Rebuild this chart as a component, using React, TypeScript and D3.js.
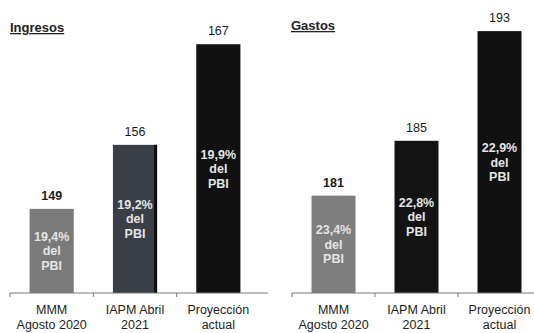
import React from "react";
import * as d3 from "d3";

const categories = ["MMM\nAgosto 2020", "IAPM Abril\n2021", "Proyección\nactual"];
const ingresos = [149, 156, 167];
const ingresosPbi = ["19,4%", "19,2%", "19,9%"];
const gastos = [181, 185, 193];
const gastosPbi = ["23,4%", "22,8%", "22,9%"];
const ingresosColors = ["#7a7a7a", "#3a3e46", "#111111"];
const gastosColors = ["#7e7e7e", "#141414", "#111111"];

const W = 534;
const H = 333;
const baseline = 293;
const FONT = "'Liberation Sans', Arial, sans-serif";

type PanelProps = {
  title: string;
  values: number[];
  pbi: string[];
  colors: string[];
  x0: number;
  x1: number;
  axisEnd: number;
  yDomain: [number, number];
  yTop: number;
  titleX: number;
  titleY: number;
};

function Panel({ title, values, pbi, colors, x0, x1, axisEnd, yDomain, yTop, titleX, titleY }: PanelProps) {
  const x = d3.scaleBand<string>().domain(categories).range([x0, x1]).paddingInner(0.47).paddingOuter(0.235);
  const y = d3.scaleLinear().domain(yDomain).range([baseline, yTop]);
  const step = x.step();
  const tickXs = categories.map((_, i) => x0 + i * step);
  return (
    <g>
      <text x={titleX} y={titleY} fontFamily={FONT} fontSize={13} fontWeight="bold" fill="#222" textDecoration="underline">
        {title}
      </text>
      {values.map((v, i) => {
        const c = categories[i];
        const bx = x(c)!;
        const bw = x.bandwidth();
        const top = y(v);
        const mid = (top + baseline) / 2;
        return (
          <g key={c}>
            <rect x={bx} y={top} width={bw} height={baseline - top} fill={colors[i]} />
            {colors[i] === "#3a3e46" && <rect x={bx + bw - 3} y={top} width={3} height={baseline - top} fill="#0c0c0c" />}
            <text x={bx + bw / 2} y={top - 9} textAnchor="middle" fontFamily={FONT} fontSize={12.5} fontWeight={i === 0 ? "bold" : "normal"} fill="#1a1a1a">
              {v}
            </text>
            {[pbi[i], "del", "PBI"].map((t, j) => (
              <text key={j} x={bx + bw / 2} y={mid + (j - 1) * 14.5 + 4.5} textAnchor="middle" fontFamily={FONT} fontSize={12.5} fontWeight="bold" fill="#e4e4e4">
                {t}
              </text>
            ))}
            {c.split("\n").map((t, j) => (
              <text key={"c" + j} x={bx + bw / 2} y={314 + j * 14.5} textAnchor="middle" fontFamily={FONT} fontSize={12.5} fill="#222">
                {t}
              </text>
            ))}
          </g>
        );
      })}
      <line x1={x0} x2={axisEnd} y1={baseline} y2={baseline} stroke="#777" strokeWidth={1} />
      {tickXs.map((tx, i) => (
        <line key={i} x1={tx} x2={tx} y1={baseline} y2={baseline + 4} stroke="#777" strokeWidth={1} />
      ))}
    </g>
  );
}

export default function App() {
  return (
    <svg width={W} height={H} style={{ position: "absolute", left: 0, top: 0, background: "#fff" }}>
      <rect width={W} height={H} fill="#fff" />
      <Panel
        title="Ingresos"
        values={ingresos}
        pbi={ingresosPbi}
        colors={ingresosColors}
        x0={10}
        x1={260}
        axisEnd={268}
        yDomain={[139.8, 170]}
        yTop={16.8}
        titleX={10}
        titleY={32}
      />
      <Panel
        title="Gastos"
        values={gastos}
        pbi={gastosPbi}
        colors={gastosColors}
        x0={292}
        x1={541}
        axisEnd={534}
        yDomain={[173.9, 195]}
        yTop={3.7}
        titleX={291}
        titleY={30}
      />
    </svg>
  );
}
